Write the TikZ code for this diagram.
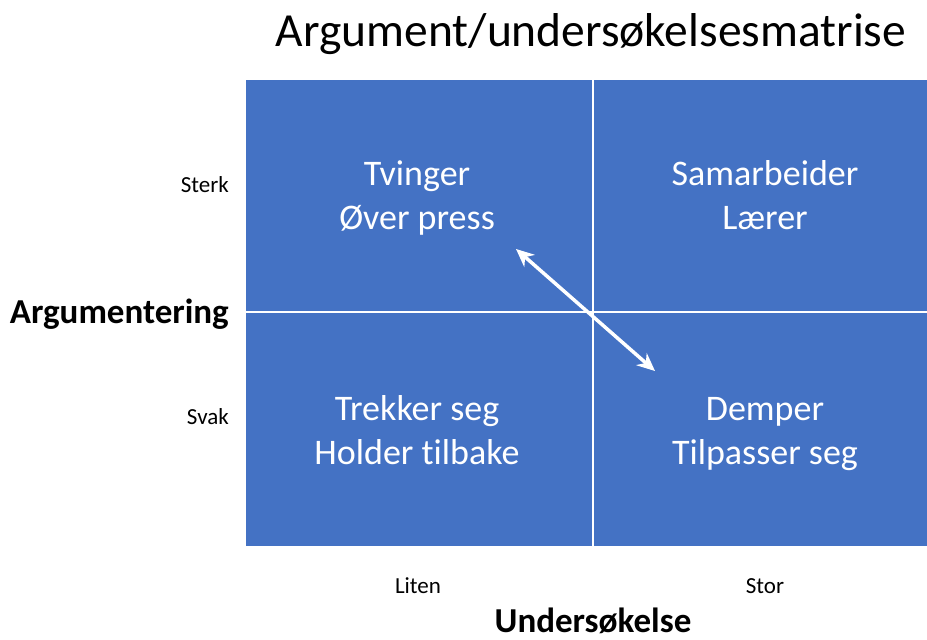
\documentclass[tikz,border=0pt]{standalone}
\usepackage{fontspec}
\setmainfont[RawFeature={-liga}]{Carlito}
\usetikzlibrary{arrows.meta}
\definecolor{cellblue}{HTML}{4472C4}
\tikzset{
  celltext/.style={text=white, font=\fontsize{36}{44}\selectfont, align=center, inner sep=0pt},
  ticklabel/.style={text=black, font=\fontsize{23}{28}\selectfont, inner sep=0pt},
  axislabel/.style={text=black, font=\fontsize{35}{42}\selectfont\bfseries, inner sep=0pt},
  gridline/.style={white, line width=1.8pt},
  bidir/.style={white, line width=3.5pt, {Stealth[length=18pt,width=16pt]}-{Stealth[length=18pt,width=16pt]}}
}
\begin{document}
\begin{tikzpicture}[x=1pt,y=-1pt]
\useasboundingbox (0,0) rectangle (927,640);
\fill[cellblue] (246,80) rectangle (927,546);
\coordinate (tm) at (593,80);
\coordinate (bm) at (593,546);
\coordinate (lm) at (246,312);
\coordinate (rm) at (927,312);
\draw[gridline] (tm) -- (bm);
\draw[gridline] (lm) -- (rm);
\node[text=black, font=\fontsize{47.5}{56}\selectfont, anchor=base, inner sep=0pt] (title) at (591,46) {Argument/undersøkelsesmatrise};
\node[celltext] (tl) at (417,199) {\strut Tvinger\\\strut Øver press};
\node[celltext] (tr) at (765,199) {\strut Samarbeider\\\strut Lærer};
\node[celltext] (bl) at (417,434) {\strut Trekker seg\\\strut Holder tilbake};
\node[celltext] (br) at (765,434) {\strut Demper\\\strut Tilpasser seg};
\node[ticklabel, anchor=base east] (sterk) at (229,192) {Sterk};
\node[ticklabel, anchor=base east] (svak) at (229,424) {Svak};
\node[ticklabel, anchor=base] (liten) at (418,593) {Liten};
\node[ticklabel, anchor=base] (stor) at (765,593) {Stor};
\node[axislabel, anchor=base east] (arg) at (229,323) {Argumentering};
\node[axislabel, anchor=base] (und) at (593,632) {Undersøkelse};
\coordinate (a1) at (516,249);
\coordinate (a2) at (655,371);
\draw[bidir] (a1) -- (a2);
\end{tikzpicture}
\end{document}
